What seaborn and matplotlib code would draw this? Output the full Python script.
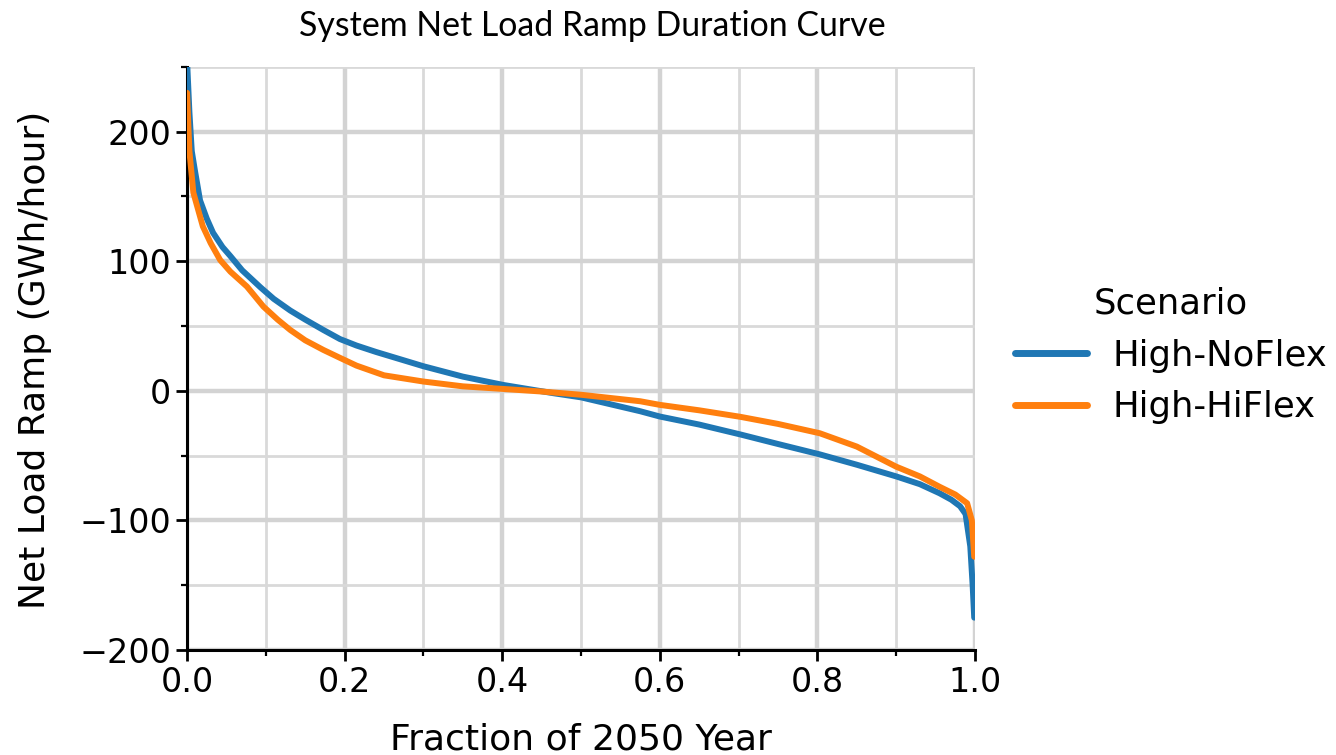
import matplotlib
matplotlib.use("Agg")
import matplotlib.pyplot as plt
from matplotlib.ticker import MultipleLocator
import seaborn as sns
import pandas as pd

# fraction of the year (sorted duration) and ramp values
noflex_frac = [0.0, 0.003, 0.006, 0.01, 0.0165, 0.025, 0.033, 0.045, 0.055, 0.07, 0.093,
               0.11, 0.131, 0.15, 0.173, 0.194, 0.215, 0.24, 0.27, 0.3, 0.35, 0.401, 0.465,
               0.5, 0.575, 0.6, 0.65, 0.702, 0.75, 0.803, 0.85, 0.9, 0.93, 0.955,
               0.97, 0.981, 0.988, 0.994, 0.997, 0.999]
noflex_ramp = [255, 215, 185, 170, 147, 133, 122, 111, 104, 93, 80,
               71, 62, 55, 47, 40, 35, 30, 24.5, 19, 11, 4.6, -1.8,
               -5, -15.7, -19.8, -26, -33.6, -41, -49, -57, -66, -72, -79,
               -84, -89, -95, -120, -150, -175]

hiflex_frac = [0.0, 0.003, 0.008, 0.014, 0.02, 0.03, 0.042, 0.055, 0.076, 0.097,
               0.115, 0.131, 0.15, 0.173, 0.194, 0.215, 0.25, 0.3, 0.35, 0.401,
               0.45, 0.5, 0.575, 0.6, 0.65, 0.702, 0.75, 0.803, 0.85, 0.9, 0.93,
               0.955, 0.975, 0.99, 0.996, 0.999]
hiflex_ramp = [230, 185, 153, 140, 127, 114, 101, 92, 80.5, 65,
               55, 47, 39, 31.6, 25.5, 19.5, 12, 7.2, 3.5, 1.5,
               -0.5, -3, -8, -10.8, -15, -20, -25.5, -32.7, -43, -58.5, -66,
               -74, -80, -86.7, -100, -128]

labels = ["High-NoFlex", "High-HiFlex"]

df = pd.concat([
    pd.DataFrame({"Fraction": noflex_frac, "Ramp": noflex_ramp, "Scenario": labels[0]}),
    pd.DataFrame({"Fraction": hiflex_frac, "Ramp": hiflex_ramp, "Scenario": labels[1]}),
])

sns.set_style("ticks")
plt.rcParams["font.family"] = ["DejaVu Sans"]
plt.rcParams["text.color"] = "black"
plt.rcParams["axes.labelcolor"] = "black"

fig = plt.figure(figsize=(13.36, 7.55), dpi=100)
ax = fig.add_axes([0.14, 0.139, 0.5898, 0.7724])

sns.lineplot(data=df, x="Fraction", y="Ramp", hue="Scenario", sort=False,
             palette=["#1f77b4", "#ff7f0e"], linewidth=4.3, ax=ax, zorder=3)

ax.set_xlim(0, 1)
ax.set_ylim(-200, 250)
ax.xaxis.set_major_locator(MultipleLocator(0.2))
ax.xaxis.set_minor_locator(MultipleLocator(0.1))
ax.yaxis.set_major_locator(MultipleLocator(100))
ax.yaxis.set_minor_locator(MultipleLocator(50))
ax.grid(which="major", color="#d3d3d3", linewidth=3.2)
ax.grid(which="minor", color="#d9d9d9", linewidth=2.0)
ax.set_axisbelow(True)

sns.despine(ax=ax)
for s in ["left", "bottom"]:
    ax.spines[s].set_linewidth(2.2)
    ax.spines[s].set_color("black")
ax.tick_params(which="major", length=8, width=2, labelsize=24, colors="black")
ax.tick_params(which="minor", length=4, width=1.6, colors="black")

ax.set_xlabel("Fraction of 2050 Year", fontsize=26, color="black")
ax.set_ylabel("Net Load Ramp (GWh/hour)", fontsize=26, color="black")
ax.xaxis.set_label_coords(0.5, -0.125)
ax.yaxis.set_label_coords(-0.172, 0.497)

fig.text(0.443, 0.965, "System Net Load Ramp Duration Curve", ha="center", va="center",
         fontsize=24.4, family="Lato", color="black")

leg = ax.legend(title="Scenario", loc="center left", bbox_to_anchor=(1.01, 0.505),
                frameon=False, fontsize=25.5, title_fontsize=25.5, handlelength=2.05,
                handletextpad=0.7, labelcolor="black")
leg.get_title().set_color("black")
for line in leg.get_lines():
    line.set_linewidth(5)

fig.savefig("out.png", dpi=100)
